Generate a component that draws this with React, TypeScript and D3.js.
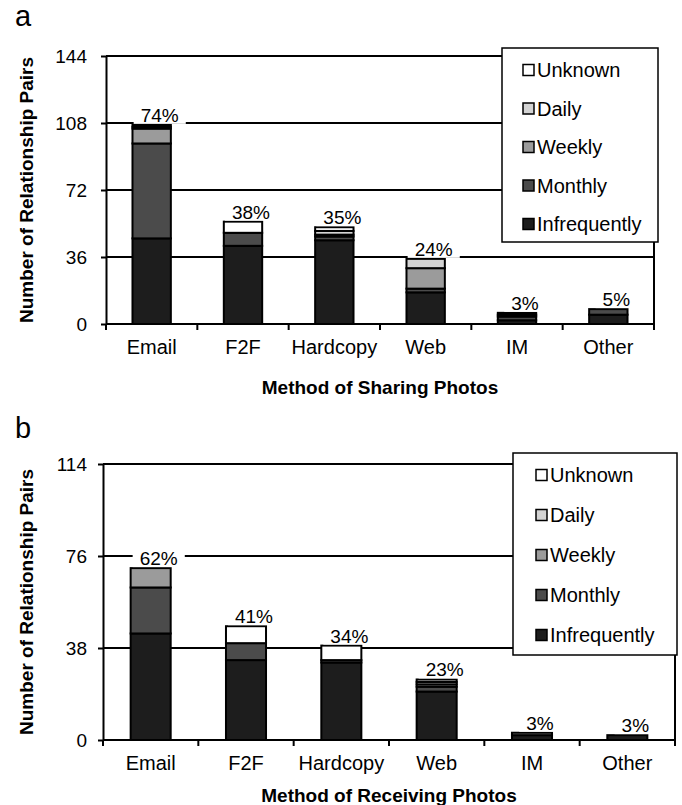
import React, { useEffect, useRef } from "react";
import * as d3 from "d3";

// categories and series
const methods = ["Email", "F2F", "Hardcopy", "Web", "IM", "Other"];
const frequencies = ["Infrequently", "Monthly", "Weekly", "Daily", "Unknown"];
const legendOrder = ["Unknown", "Daily", "Weekly", "Monthly", "Infrequently"];

// (a) sharing
const sharingInfrequently = [46, 42, 45, 17, 2, 5];
const sharingMonthly = [51, 7, 2, 2, 2, 3];
const sharingWeekly = [8, 0, 1, 11, 1, 0];
const sharingDaily = [1, 0, 2, 5, 1, 0];
const sharingUnknown = [1, 6, 2, 0, 0, 0];
const sharingPct = ["74%", "38%", "35%", "24%", "3%", "5%"];
const sharingTicks = [0, 36, 72, 108, 144];

// (b) receiving
const receivingInfrequently = [44, 33, 32, 20, 2, 2];
const receivingMonthly = [19, 7, 1, 2, 0, 0];
const receivingWeekly = [8, 0, 0, 1, 1, 0];
const receivingDaily = [0, 0, 0, 1, 0, 0];
const receivingUnknown = [0, 7, 6, 1, 0, 0];
const receivingPct = ["62%", "41%", "34%", "23%", "3%", "3%"];
const receivingTicks = [0, 38, 76, 114];

const fills: Record<string, string> = {
  Infrequently: "#1d1d1d",
  Monthly: "#4b4b4b",
  Weekly: "#9b9b9b",
  Daily: "#d3d3d3",
  Unknown: "#ffffff",
};

const FONT = "'Liberation Sans', Arial, sans-serif";

function drawPanel(svg: any, p: any) {
  const x = d3.scaleBand().domain(methods).range([p.left, p.right])
    .paddingInner(0.58).paddingOuter(0.29);
  const y = d3.scaleLinear().domain([0, p.ticks[p.ticks.length - 1]]).range([p.bottom, p.top]);
  const step = x.step();

  const rows = methods.map((m, i) => {
    const r: any = { method: m };
    frequencies.forEach((f) => { r[f] = p.series[f][i]; });
    return r;
  });
  const stacked = d3.stack().keys(frequencies)(rows);

  const g = svg.append("g");

  // panel letter
  g.append("text")
    .attr("x", p.letterX).attr("y", p.letterY)
    .style("font", "29px " + FONT)
    .text(p.letter);

  // gridlines
  g.selectAll(".grid")
    .data(p.ticks.slice(1))
    .enter().append("line")
    .attr("x1", p.left).attr("x2", p.right)
    .attr("y1", (d: number) => y(d)).attr("y2", (d: number) => y(d))
    .attr("stroke", "#000").attr("stroke-width", 2);

  // right border
  g.append("line")
    .attr("x1", p.right).attr("x2", p.right)
    .attr("y1", p.top).attr("y2", p.bottom)
    .attr("stroke", "#000").attr("stroke-width", 2);

  // bars
  stacked.forEach((layer: any) => {
    g.selectAll(".seg-" + layer.key)
      .data(layer.filter((d: any) => d[1] - d[0] > 0))
      .enter().append("rect")
      .attr("x", (d: any) => x(d.data.method))
      .attr("width", x.bandwidth())
      .attr("y", (d: any) => y(d[1]))
      .attr("height", (d: any) => y(d[0]) - y(d[1]))
      .attr("fill", fills[layer.key])
      .attr("stroke", "#000").attr("stroke-width", 2);
  });

  // percentage labels with white backing
  rows.forEach((r, i) => {
    const total = frequencies.reduce((s, f) => s + r[f], 0);
    const cx = (x(r.method) as number) + x.bandwidth() / 2 + 8;
    const top = y(total);
    const t = g.append("text")
      .attr("x", cx).attr("y", top - 3)
      .attr("text-anchor", "middle")
      .style("font", "19px " + FONT)
      .text(p.pct[i]);
    const bb = (t.node() as SVGTextElement).getBBox();
    g.insert("rect", () => t.node())
      .attr("x", bb.x - 7).attr("width", bb.width + 14)
      .attr("y", bb.y + 2).attr("height", top - 1 - (bb.y + 2))
      .attr("fill", "#fff");
  });

  // y axis
  const yAxis = g.append("g")
    .attr("transform", "translate(" + p.left + ",0)")
    .call(d3.axisLeft(y).tickValues(p.ticks).tickSize(5).tickSizeOuter(0).tickPadding(p.tickPad));
  yAxis.selectAll("path,line").attr("stroke", "#000").attr("stroke-width", 2);
  yAxis.selectAll("text").style("font", "19px " + FONT).attr("fill", "#000");

  // x axis: labels at centers, ticks at category boundaries
  const xAxis = g.append("g")
    .attr("transform", "translate(0," + p.bottom + ")")
    .call(d3.axisBottom(x).tickSize(0).tickSizeOuter(0).tickPadding(16));
  xAxis.select(".domain").attr("stroke", "#000").attr("stroke-width", 2)
    .attr("d", "M" + p.left + ",0H" + p.right);
  xAxis.selectAll("text").style("font", "20px " + FONT).attr("fill", "#000");
  g.selectAll(".xtick")
    .data(d3.range(methods.length + 1))
    .enter().append("line")
    .attr("x1", (i: number) => p.left + i * step).attr("x2", (i: number) => p.left + i * step)
    .attr("y1", p.bottom).attr("y2", p.bottom + 6)
    .attr("stroke", "#000").attr("stroke-width", 2);

  // axis titles
  g.append("text")
    .attr("x", (p.left + p.right) / 2).attr("y", p.xTitleY)
    .attr("text-anchor", "middle")
    .style("font", "bold 19px " + FONT)
    .text(p.xTitle);
  g.append("text")
    .attr("transform", "translate(" + p.yTitleX + "," + (p.top + p.bottom) / 2 + ") rotate(-90)")
    .attr("text-anchor", "middle")
    .style("font", "bold 19px " + FONT)
    .text("Number of Relationship Pairs");

  // legend
  const lg = p.legend;
  g.append("rect")
    .attr("x", lg.x).attr("y", lg.y).attr("width", lg.w).attr("height", lg.h)
    .attr("fill", "#fff").attr("stroke", "#000").attr("stroke-width", 1.5);
  const items = g.selectAll(".legend")
    .data(legendOrder)
    .enter().append("g")
    .attr("transform", (d: string, i: number) => "translate(" + lg.swatchX + "," + (lg.firstY + i * lg.gap) + ")");
  items.append("rect")
    .attr("x", 0).attr("y", -5.5).attr("width", 11).attr("height", 11)
    .attr("fill", (d: string) => fills[d])
    .attr("stroke", "#000").attr("stroke-width", 1.5);
  items.append("text")
    .attr("x", 14).attr("y", 0).attr("dy", "0.36em")
    .style("font", "20px " + FONT)
    .text((d: string) => d);
}

export default function App() {
  const ref = useRef<SVGSVGElement>(null);

  useEffect(() => {
    document.body.style.margin = "0";
    const svg = d3.select(ref.current);
    svg.selectAll("*").remove();

    drawPanel(svg, {
      letter: "a", letterX: 15, letterY: 26,
      left: 106, right: 654, top: 56, bottom: 324,
      ticks: sharingTicks, tickPad: 14,
      series: {
        Infrequently: sharingInfrequently, Monthly: sharingMonthly, Weekly: sharingWeekly,
        Daily: sharingDaily, Unknown: sharingUnknown,
      },
      pct: sharingPct,
      xTitle: "Method of Sharing Photos", xTitleY: 394, yTitleX: 33,
      legend: { x: 502, y: 48, w: 156, h: 194, swatchX: 523, firstY: 70, gap: 38.5 },
    });

    drawPanel(svg, {
      letter: "b", letterX: 15, letterY: 438,
      left: 103, right: 675, top: 464, bottom: 740,
      ticks: receivingTicks, tickPad: 11,
      series: {
        Infrequently: receivingInfrequently, Monthly: receivingMonthly, Weekly: receivingWeekly,
        Daily: receivingDaily, Unknown: receivingUnknown,
      },
      pct: receivingPct,
      xTitle: "Method of Receiving Photos", xTitleY: 802, yTitleX: 33,
      legend: { x: 513, y: 453, w: 164, h: 202, swatchX: 536, firstY: 475, gap: 40 },
    });
  }, []);

  return <svg ref={ref} width={682} height={805} style={{ display: "block", background: "#fff" }} />;
}
